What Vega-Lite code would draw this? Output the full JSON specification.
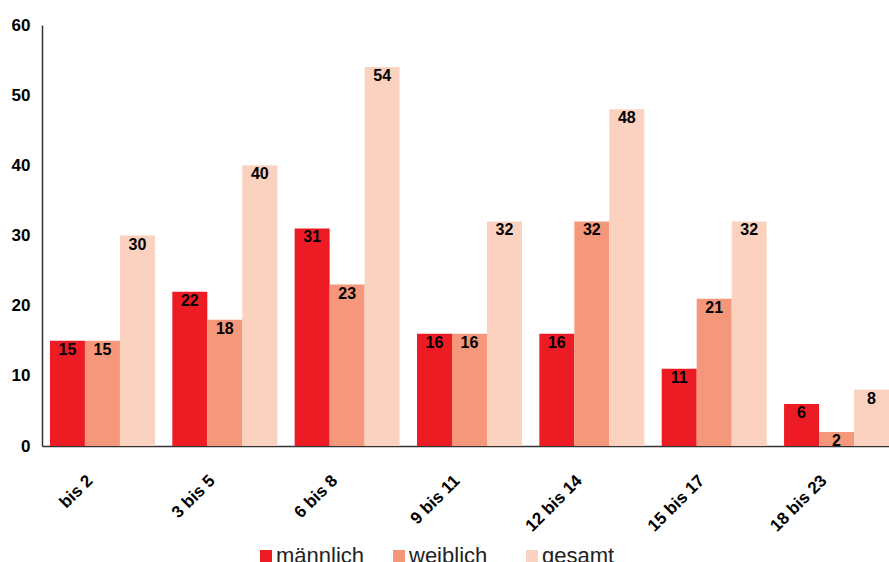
{
  "$schema": "https://vega.github.io/schema/vega-lite/v6.json",
  "autosize": "none",
  "width": 855,
  "height": 421,
  "padding": {"left": 42, "top": 25, "right": 0, "bottom": 116},
  "background": "white",
  "config": {
    "view": {"stroke": null},
    "font": "Liberation Sans"
  },
  "data": {
    "values": [
      {"Alter": "bis 2", "Geschlecht": "männlich", "Anzahl": 15},
      {"Alter": "bis 2", "Geschlecht": "weiblich", "Anzahl": 15},
      {"Alter": "bis 2", "Geschlecht": "gesamt", "Anzahl": 30},
      {"Alter": "3 bis 5", "Geschlecht": "männlich", "Anzahl": 22},
      {"Alter": "3 bis 5", "Geschlecht": "weiblich", "Anzahl": 18},
      {"Alter": "3 bis 5", "Geschlecht": "gesamt", "Anzahl": 40},
      {"Alter": "6 bis 8", "Geschlecht": "männlich", "Anzahl": 31},
      {"Alter": "6 bis 8", "Geschlecht": "weiblich", "Anzahl": 23},
      {"Alter": "6 bis 8", "Geschlecht": "gesamt", "Anzahl": 54},
      {"Alter": "9 bis 11", "Geschlecht": "männlich", "Anzahl": 16},
      {"Alter": "9 bis 11", "Geschlecht": "weiblich", "Anzahl": 16},
      {"Alter": "9 bis 11", "Geschlecht": "gesamt", "Anzahl": 32},
      {"Alter": "12 bis 14", "Geschlecht": "männlich", "Anzahl": 16},
      {"Alter": "12 bis 14", "Geschlecht": "weiblich", "Anzahl": 32},
      {"Alter": "12 bis 14", "Geschlecht": "gesamt", "Anzahl": 48},
      {"Alter": "15 bis 17", "Geschlecht": "männlich", "Anzahl": 11},
      {"Alter": "15 bis 17", "Geschlecht": "weiblich", "Anzahl": 21},
      {"Alter": "15 bis 17", "Geschlecht": "gesamt", "Anzahl": 32},
      {"Alter": "18 bis 23", "Geschlecht": "männlich", "Anzahl": 6},
      {"Alter": "18 bis 23", "Geschlecht": "weiblich", "Anzahl": 2},
      {"Alter": "18 bis 23", "Geschlecht": "gesamt", "Anzahl": 8}
    ]
  },
  "encoding": {
    "x": {
      "field": "Alter",
      "type": "nominal",
      "sort": ["bis 2", "3 bis 5", "6 bis 8", "9 bis 11", "12 bis 14", "15 bis 17", "18 bis 23"],
      "scale": {"paddingInner": 0.142, "paddingOuter": 0.065},
      "axis": {
        "title": null,
        "labelAngle": -45,
        "labelFontSize": 17,
        "labelFontWeight": "bold",
        "labelColor": "#000000",
        "labelPadding": 26,
        "labelOffset": -18,
        "ticks": false,
        "domainColor": "#333333",
        "domainWidth": 1.5,
        "grid": false
      }
    },
    "xOffset": {
      "field": "Geschlecht",
      "sort": ["männlich", "weiblich", "gesamt"],
      "scale": {"paddingInner": 0, "paddingOuter": 0}
    },
    "y": {
      "field": "Anzahl",
      "type": "quantitative",
      "scale": {"domain": [0, 60], "nice": false},
      "axis": {
        "title": null,
        "values": [0, 10, 20, 30, 40, 50, 60],
        "labelFontSize": 17,
        "labelFontWeight": "bold",
        "labelColor": "#000000",
        "labelPadding": 12,
        "ticks": false,
        "grid": false,
        "domainColor": "#333333",
        "domainWidth": 1.5
      }
    }
  },
  "layer": [
    {
      "mark": {"type": "bar"},
      "encoding": {
        "color": {
          "field": "Geschlecht",
          "type": "nominal",
          "sort": ["männlich", "weiblich", "gesamt"],
          "scale": {
            "domain": ["männlich", "weiblich", "gesamt"],
            "range": ["#ED1C24", "#F4977A", "#FBD2C0"]
          },
          "legend": {
            "title": null,
            "orient": "none",
            "legendX": 213,
            "legendY": 520,
            "direction": "horizontal",
            "columns": 3,
            "gridAlign": "all",
            "columnPadding": 23,
            "padding": 0,
            "symbolType": "square",
            "symbolSize": 144,
            "symbolStrokeWidth": 0,
            "labelFontSize": 22,
            "labelColor": "#222222",
            "labelOffset": -1
          }
        }
      }
    },
    {
      "mark": {
        "type": "text",
        "baseline": "top",
        "dy": 1,
        "fontSize": 16,
        "fontWeight": "bold",
        "color": "#000000"
      },
      "encoding": {
        "text": {"field": "Anzahl", "type": "quantitative"}
      }
    }
  ]
}
